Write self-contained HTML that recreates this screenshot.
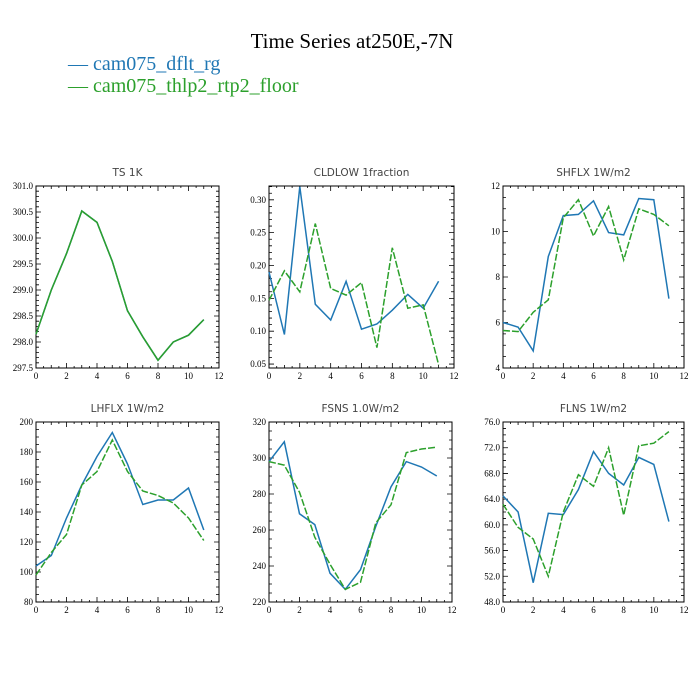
<!DOCTYPE html>
<html><head><meta charset="utf-8">
<style>
body{margin:0;background:#fff;}
svg{display:block;}
.tl{font-family:"Liberation Serif",serif;font-size:9px;fill:#000;}
.pt{font-family:"DejaVu Sans","Liberation Sans",sans-serif;font-size:10.5px;fill:#444;}
</style></head>
<body>
<svg id="chart" width="700" height="700" viewBox="0 0 700 700">
<text x="352" y="48" text-anchor="middle" font-family="Liberation Serif,serif" font-size="21">Time Series at250E,-7N</text>
<text x="68" y="70" font-family="Liberation Serif,serif" font-size="20" fill="#1f77b4">— cam075_dflt_rg</text>
<text x="68" y="92" font-family="Liberation Serif,serif" font-size="20" fill="#2ca02c">— cam075_thlp2_rtp2_floor</text>
</svg>
<script>
const months=[0,1,2,3,4,5,6,7,8,9,10,11];
const tsBlue=[298.15,299.0,299.7,300.52,300.3,299.55,298.6,298.1,297.65,298.0,298.13,298.43];
const tsGreen=[298.15,299.0,299.7,300.52,300.3,299.55,298.6,298.1,297.65,298.0,298.13,298.43];
const cldBlue=[0.19,0.095,0.32,0.141,0.117,0.176,0.103,0.111,0.132,0.156,0.135,0.176];
const cldGreen=[0.147,0.192,0.160,0.264,0.165,0.155,0.174,0.075,0.227,0.135,0.140,0.049];
const shBlue=[6.0,5.8,4.75,8.9,10.7,10.75,11.35,9.95,9.85,11.45,11.4,7.05];
const shGreen=[5.65,5.6,6.45,7.0,10.6,11.4,9.8,11.1,8.75,11.0,10.75,10.25];
const lhBlue=[104,111,136,158,177,193,172,145,148,148,156,128];
const lhGreen=[98,113,125,158,167,188,167,154,151,146,136,121];
const fsBlue=[298,309,269,263,236,227,238,262,284,298,295,290];
const fsGreen=[298,296,281,256,241,227,231,264,274,303,305,306];
const flBlue=[64.5,62,51,61.8,61.6,65.5,71.4,68,66.2,70.5,69.4,60.5];
const flGreen=[63.2,59.6,57.8,52,62,67.8,66,72,61.5,72.3,72.7,74.5];
const xTicks=[0,2,4,6,8,10,12];
const tsTicks=["297.5","298.0","298.5","299.0","299.5","300.0","300.5","301.0"];
const cldTicks=["0.05","0.10","0.15","0.20","0.25","0.30"];
const shTicks=["4","6","8","10","12"];
const lhTicks=["80","100","120","140","160","180","200"];
const fsTicks=["220","240","260","280","300","320"];
const flTicks=["48.0","52.0","56.0","60.0","64.0","68.0","72.0","76.0"];

const NS="http://www.w3.org/2000/svg";
const svg=document.getElementById('chart');
function mk(tag,attrs,parent){const e=document.createElementNS(NS,tag);for(const k in attrs)e.setAttribute(k,attrs[k]);(parent||svg).appendChild(e);return e;}

const panels=[
 {name:'ts',title:'TS    1K',x0:36,x1:219,y0:186,y1:368,ymin:297.5,ymax:301,ticks:tsTicks,blue:tsBlue,green:tsGreen,minor:5},
 {name:'cldlow',title:'CLDLOW    1fraction',x0:269,x1:454,y0:186,y1:368,ymin:0.044,ymax:0.321,ticks:cldTicks,blue:cldBlue,green:cldGreen,minor:5},
 {name:'shflx',title:'SHFLX    1W/m2',x0:503,x1:684,y0:186,y1:368,ymin:4,ymax:12,ticks:shTicks,blue:shBlue,green:shGreen,minor:4},
 {name:'lhflx',title:'LHFLX    1W/m2',x0:36,x1:219,y0:422,y1:602,ymin:80,ymax:200,ticks:lhTicks,blue:lhBlue,green:lhGreen,minor:4},
 {name:'fsns',title:'FSNS    1.0W/m2',x0:269,x1:452,y0:422,y1:602,ymin:220,ymax:320,ticks:fsTicks,blue:fsBlue,green:fsGreen,minor:4},
 {name:'flns',title:'FLNS    1W/m2',x0:503,x1:684,y0:422,y1:602,ymin:48,ymax:76,ticks:flTicks,blue:flBlue,green:flGreen,minor:4}
];

panels.forEach(p=>{
  const g=mk('g',{});
  
  
  const X=v=>p.x0+(v-0)/(12-0)*(p.x1-p.x0);
  const Y=v=>p.y1-(v-p.ymin)/(p.ymax-p.ymin)*(p.y1-p.y0);
  const t=mk('text',{x:(p.x0+p.x1)/2,y:p.y0-10,'text-anchor':'middle','class':'pt'},g);
  t.textContent=p.title;
  
  
  const box=mk('rect',{x:p.x0,y:p.y0,width:p.x1-p.x0,height:p.y1-p.y0,fill:'none',stroke:'#000','stroke-width':1},g);
  
  
  let d='';
  // x ticks
  for(let v=0;v<=12;v+=0.5){
    const L=(v%2===0)?5:(v%1===0?3:2);
    const x=X(v);
    d+=`M${x},${p.y1}v${-L}M${x},${p.y0}v${L}`;
  }
  xTicks.forEach(v=>{
    const tx=mk('text',{x:X(v),y:p.y1+11,'text-anchor':'middle','class':'tl'},g);
    tx.textContent=v;
    
    
  });
  const tv=p.ticks.map(Number);
  const step=tv[1]-tv[0];
  tv.forEach((v,i)=>{
    const y=Y(v);
    d+=`M${p.x0},${y}h5M${p.x1},${y}h-5`;
    for(let k=1;k<p.minor;k++){
      const mv=v+k*step/p.minor;
      if(mv<=p.ymax&&i<tv.length){const my=Y(mv);if(my>=p.y0)d+=`M${p.x0},${my}h3M${p.x1},${my}h-3`;}
    }
    for(let k=1;k<p.minor;k++){
      const mv=v-k*step/p.minor;
      if(i===0&&mv>=p.ymin){const my=Y(mv);d+=`M${p.x0},${my}h3M${p.x1},${my}h-3`;}
    }
    const ty=mk('text',{x:p.x0-3,y:y+3,'text-anchor':'end','class':'tl'},g);
    ty.textContent=p.ticks[i];
    
    
  });
  const tk=mk('path',{d:d,stroke:'#000','stroke-width':0.8,fill:'none'},g);
  
  
  const pts=arr=>arr.map((v,i)=>X(months[i]).toFixed(1)+','+Y(v).toFixed(1)).join(' ');
  const lb=mk('polyline',{points:pts(p.blue),fill:'none',stroke:'#1f77b4','stroke-width':1.5},g);
  
  
  const lg=mk('polyline',{points:pts(p.green),fill:'none',stroke:'#2ca02c','stroke-width':1.5,'stroke-dasharray':p.name==='ts'?'none':'7,2'},g);
  
  
});
</script>
</body></html>
